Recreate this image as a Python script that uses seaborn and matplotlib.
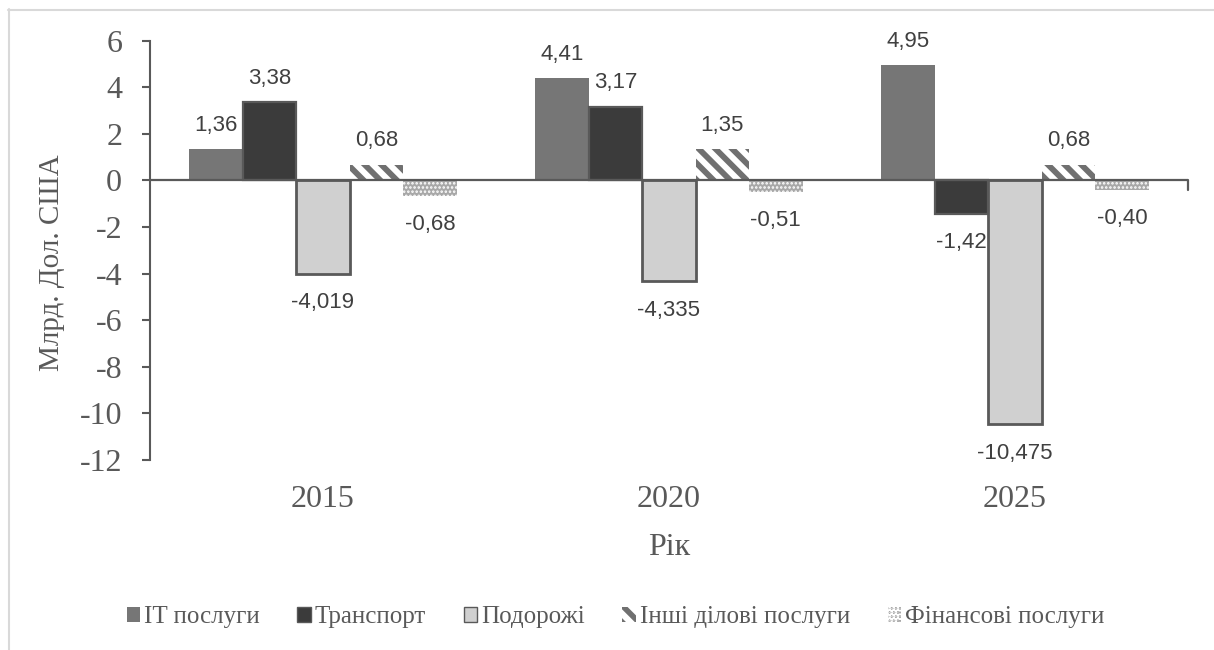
import numpy as np
import pandas as pd
import matplotlib
matplotlib.use("Agg")
import matplotlib.pyplot as plt
from matplotlib.lines import Line2D
from matplotlib.patches import Patch
import seaborn as sns

# Data: balance of services trade, billion USD
years = ["2015", "2020", "2025"]
categories = ["IT послуги", "Транспорт", "Подорожі", "Інші ділові послуги", "Фінансові послуги"]
it_services = [1.36, 4.41, 4.95]
transport = [3.38, 3.17, -1.42]
travel = [-4.019, -4.335, -10.475]
other_business = [0.68, 1.35, 0.68]
financial = [-0.68, -0.51, -0.40]
decimals = [2, 2, 3, 2, 2]

series = [it_services, transport, travel, other_business, financial]
df = pd.DataFrame({
    "Рік": [y for s in series for y in years],
    "Категорія": [c for c, s in zip(categories, series) for _ in s],
    "Значення": [v for s in series for v in s],
})

SERIF = ["Liberation Serif", "DejaVu Serif"]

sns.set_theme(style="white")
plt.rcParams["font.family"] = SERIF
plt.rcParams["axes.unicode_minus"] = False
plt.rcParams["hatch.linewidth"] = 4.0

fig = plt.figure(figsize=(12.14, 6.5), dpi=100)
ax = fig.add_axes([150 / 1214, 1 - 460 / 650, (1188 - 150) / 1214, (460 - 40.7) / 650])

palette = ["#767676", "#3b3b3b", "#d0d0d0", "#ffffff", "#a8a8a8"]
sns.barplot(data=df, x="Рік", y="Значення", hue="Категорія", order=years,
            hue_order=categories, palette=palette, width=0.772, saturation=1,
            gap=0, ax=ax, legend=False, zorder=2)

styles = [
    dict(edgecolor="#767676", linewidth=0, hatch=None, hlw=None),
    dict(edgecolor="#595959", linewidth=1.6, hatch=None, hlw=None),
    dict(edgecolor="#595959", linewidth=2.0, hatch=None, hlw=None),
    dict(edgecolor="#707070", linewidth=0, hatch="\\\\", hlw=4.2),
    dict(edgecolor="#ffffff", linewidth=0, hatch="....", hlw=1.2),
]
for cont, st in zip(ax.containers, styles):
    for p in cont:
        p.set_edgecolor(st["edgecolor"])
        p.set_linewidth(st["linewidth"])
        if st["hatch"]:
            p.set_hatch(st["hatch"])
            if hasattr(p, "set_hatch_linewidth"):
                p.set_hatch_linewidth(st["hlw"])

# value labels: above positive bars, below negative ones
for cont, vals, dec in zip(ax.containers, series, decimals):
    text = [f"{v:.{dec}f}".replace(".", ",") for v in vals]
    pos = [t if v >= 0 else "" for t, v in zip(text, vals)]
    neg = [t if v < 0 else "" for t, v in zip(text, vals)]
    ax.bar_label(cont, labels=pos, padding=9.5, fontsize=16,
                 family="Liberation Sans", color="#404040")
    ax.bar_label(cont, labels=neg, padding=13, fontsize=16,
                 family="Liberation Sans", color="#404040")

ax.set_ylim(-12, 6)
ax.set_yticks(np.arange(-12, 7, 2))
ax.set_xlim(-0.5, 2.5)

for s in ["top", "right", "bottom"]:
    ax.spines[s].set_visible(False)
ax.spines["left"].set_color("#595959")
ax.spines["left"].set_linewidth(1.5)
ax.axhline(0, color="#595959", lw=1.6, zorder=3)
ax.add_line(Line2D([2.5, 2.5], [0, -0.4], color="#595959", lw=1.6, clip_on=False))

ax.tick_params(axis="y", which="both", left=True, length=6, width=1.5,
               color="#595959", labelsize=23, labelcolor="#595959", pad=14)
ax.tick_params(axis="x", length=0, labelsize=23, labelcolor="#595959", pad=18)

ax.set_xlabel("Рік", fontsize=23, color="#595959")
ax.xaxis.set_label_coords(0.5, -0.2075)
ax.xaxis.label.set_va("center")
ax.set_ylabel("Млрд. Дол. США", fontsize=21, color="#595959")
ax.yaxis.set_label_coords(-0.094, 0.47)
ax.yaxis.label.set_va("center")

# legend
handles = []
for c, st, col in zip(categories, styles, palette):
    handles.append(Patch(facecolor=col, edgecolor=st["edgecolor"],
                         linewidth=min(st["linewidth"], 1.0), hatch=st["hatch"], label=c))
leg = fig.legend(handles=handles, loc="center", bbox_to_anchor=(0.507, 1 - 617 / 650),
                 ncol=5, frameon=False, fontsize=18,
                 handlelength=0.55, handleheight=0.55, handletextpad=0.15,
                 columnspacing=1.5)
for t in leg.get_texts():
    t.set_fontfamily(SERIF)
    t.set_color("#595959")

# outer frame
fig.add_artist(Line2D([8 / 1214, 1], [1 - 9.5 / 650] * 2, transform=fig.transFigure,
                      color="#d9d9d9", lw=1.5))
fig.add_artist(Line2D([8.5 / 1214] * 2, [0, 1 - 9 / 650], transform=fig.transFigure,
                      color="#d9d9d9", lw=1.5))

fig.savefig("out.png", dpi=100, facecolor="white")
